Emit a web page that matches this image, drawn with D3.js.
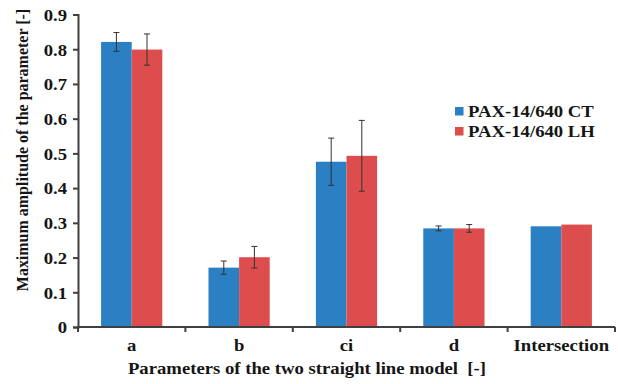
<!DOCTYPE html>
<html>
<head>
<meta charset="utf-8">
<script src="https://cdn.jsdelivr.net/npm/d3@7/dist/d3.min.js"></script>
<style>
  html, body { margin: 0; padding: 0; background: #fff; }
</style>
</head>
<body>
<svg id="chart" width="618" height="384"></svg>
<script>
// Parameters of the two straight line model
const categories = ["a", "b", "ci", "d", "Intersection"];
const seriesNames = ["PAX-14/640 CT", "PAX-14/640 LH"];
const ctValues = [0.821, 0.171, 0.476, 0.284, 0.290];
const lhValues = [0.799, 0.201, 0.493, 0.284, 0.295];
const ctErrors = [0.027, 0.019, 0.068, 0.007, 0];
const lhErrors = [0.045, 0.031, 0.102, 0.011, 0];
const yTicks = [0, 0.1, 0.2, 0.3, 0.4, 0.5, 0.6, 0.7, 0.8, 0.9];
const colors = ["#2b7fc3", "#de4d4d"];

const FONT = "'Liberation Serif', 'Times New Roman', Times, serif";
const SX = 1.1; // slightly widened lettering
const svg = d3.select("#chart");
const margin = { left: 78, right: 3, top: 14.5, bottom: 57 };
const W = 618, H = 384;

function styleText(sel, size) {
  sel.style("font-family", FONT).style("font-weight", "bold")
    .style("font-size", size + "px").style("fill", "#151515");
}

const x = d3.scaleBand().domain(categories)
  .range([margin.left, W - margin.right]).paddingInner(0.43).paddingOuter(0.215);
const xs = d3.scaleBand().domain(seriesNames).range([0, x.bandwidth()]);
const y = d3.scaleLinear().domain([0, 0.9]).range([H - margin.bottom, margin.top]);

const data = categories.map((c, i) => ({
  cat: c,
  vals: [
    { s: seriesNames[0], v: ctValues[i], e: ctErrors[i], col: colors[0] },
    { s: seriesNames[1], v: lhValues[i], e: lhErrors[i], col: colors[1] }
  ]
}));

// bars
const g = svg.append("g");
const groups = g.selectAll("g.cat").data(data).join("g")
  .attr("transform", d => `translate(${x(d.cat)},0)`);
groups.selectAll("rect").data(d => d.vals).join("rect")
  .attr("x", d => xs(d.s))
  .attr("width", xs.bandwidth())
  .attr("y", d => y(d.v))
  .attr("height", d => y(0) - y(d.v))
  .attr("fill", d => d.col);

// error bars
const eb = groups.selectAll("g.err").data(d => d.vals.filter(v => v.e > 0)).join("g")
  .attr("stroke", "#333").attr("stroke-width", 1);
const cx = d => xs(d.s) + xs.bandwidth() / 2;
eb.append("line")
  .attr("x1", cx).attr("x2", cx)
  .attr("y1", d => y(d.v + d.e)).attr("y2", d => y(d.v - d.e));
eb.append("line")
  .attr("x1", d => cx(d) - 3).attr("x2", d => cx(d) + 3)
  .attr("y1", d => y(d.v + d.e)).attr("y2", d => y(d.v + d.e));
eb.append("line")
  .attr("x1", d => cx(d) - 3).attr("x2", d => cx(d) + 3)
  .attr("y1", d => y(d.v - d.e)).attr("y2", d => y(d.v - d.e));

// y axis
const yAxis = svg.append("g").attr("transform", `translate(${margin.left},0)`)
  .call(d3.axisLeft(y).tickValues(yTicks).tickSize(5).tickPadding(6)
    .tickFormat(d => d === 0 ? "0" : d3.format(".1f")(d)));
yAxis.attr("font-family", null);
yAxis.select(".domain").attr("stroke", "#404040").attr("stroke-width", 2);
yAxis.selectAll(".tick line").attr("stroke", "#404040").attr("stroke-width", 2);
const yt = yAxis.selectAll(".tick text")
  .attr("x", 0).attr("dy", "0.34em")
  .attr("transform", `translate(-11,0) scale(${SX},1)`);
styleText(yt, 17);

// x axis with boundary ticks between categories
const step = x.step();
const boundaries = d3.range(categories.length + 1).map(i => margin.left + i * step);
const xAxisG = svg.append("g");
xAxisG.append("line")
  .attr("x1", margin.left - 1).attr("x2", boundaries[boundaries.length - 1])
  .attr("y1", y(0)).attr("y2", y(0))
  .attr("stroke", "#404040").attr("stroke-width", 2);
xAxisG.selectAll("line.tick").data(boundaries).join("line")
  .attr("class", "tick")
  .attr("x1", d => d).attr("x2", d => d)
  .attr("y1", y(0)).attr("y2", y(0) + 5)
  .attr("stroke", "#404040").attr("stroke-width", 2);
const xl = xAxisG.selectAll("text").data(categories).join("text")
  .attr("transform", d => `translate(${x(d) + x.bandwidth() / 2},${y(0) + 24}) scale(${SX},1)`)
  .attr("text-anchor", "middle")
  .text(d => d);
styleText(xl, 17);

// axis titles
styleText(svg.append("text")
  .attr("transform", `translate(307,374) scale(${SX},1)`)
  .attr("text-anchor", "middle")
  .text("Parameters of the two straight line model\u00a0 [-]"), 17);
styleText(svg.append("text")
  .attr("transform", `translate(28,150) scale(${SX},1) rotate(-90)`)
  .attr("text-anchor", "middle")
  .text("Maximum amplitude of the parameter [-]"), 16);

// legend
const legend = svg.append("g").attr("transform", "translate(455,107)");
const li = legend.selectAll("g").data(seriesNames).join("g")
  .attr("transform", (d, i) => `translate(0,${i * 20})`);
li.append("rect").attr("width", 8.5).attr("height", 8.5).attr("fill", (d, i) => colors[i]);
styleText(li.append("text")
  .attr("transform", `translate(13,9.5) scale(${SX},1)`)
  .text(d => d), 17);
</script>
</body>
</html>
